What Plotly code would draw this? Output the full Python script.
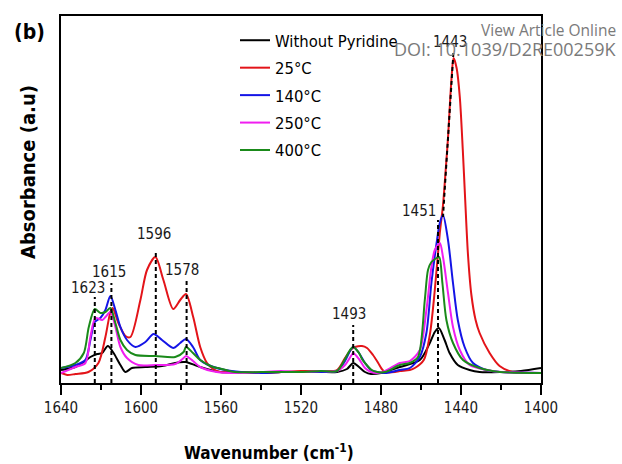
import plotly.graph_objects as go

# ---------------- data ----------------
series_names = ["Without Pyridine", "25°C", "140°C", "250°C", "400°C"]
series_colors = ["#000000", "#e31419", "#1414e6", "#f01ef0", "#1a8a1a"]

wn_black = [1640, 1632.8, 1628.6, 1625.3, 1621.9, 1619.4, 1616.6, 1613.7, 1610.3, 1607.8, 1604.5,
            1597.8, 1589.5, 1582.9, 1578.7, 1577.5, 1570.4, 1560.4, 1550, 1540, 1530, 1520, 1510,
            1502, 1497, 1493.9, 1491, 1488, 1485, 1480, 1470.6, 1460.6, 1455.6, 1453.1, 1451.1,
            1448.2, 1445.7, 1441.6, 1435.7, 1430.7, 1420, 1410, 1400]
ab_black = [0.13, 0.16, 0.21, 0.26, 0.29, 0.30, 0.37, 0.30, 0.18, 0.11, 0.15,
            0.16, 0.17, 0.20, 0.21, 0.21, 0.16, 0.11, 0.11, 0.10, 0.11, 0.11, 0.11,
            0.11, 0.14, 0.20, 0.16, 0.11, 0.09, 0.10, 0.16, 0.23, 0.40, 0.51, 0.55,
            0.43, 0.30, 0.18, 0.13, 0.11, 0.11, 0.12, 0.15]

wn_25 = [1640, 1636.9, 1632.8, 1626.3, 1621.3, 1617.8, 1615.3, 1614.2, 1611.3, 1607.8, 1605.3,
         1600.3, 1597.0, 1592.8, 1588.8, 1583.9, 1580.4, 1577.5, 1573.9, 1570.4, 1567.0, 1563.9,
         1560.4, 1550, 1540, 1530, 1520, 1510, 1502, 1498.0, 1494.7, 1493.0, 1489.5, 1487.0,
         1484.0, 1481.4, 1479.6, 1478.0, 1473.0, 1470.6, 1465.6, 1463.1, 1458.6, 1455.6, 1453.1,
         1450.6, 1449.0, 1447.4, 1446.5, 1444.8, 1443.7, 1442.2, 1440.6, 1439.1, 1437.9, 1436.5,
         1434.8, 1432.7, 1430.7, 1425.7, 1420.7, 1414.2, 1400]
ab_25 = [0.10, 0.08, 0.09, 0.11, 0.20, 0.46, 0.71, 0.75, 0.60, 0.47, 0.46,
         0.83, 1.13, 1.26, 1.03, 0.74, 0.83, 0.89, 0.66, 0.36, 0.20, 0.14,
         0.11, 0.11, 0.10, 0.11, 0.12, 0.12, 0.13, 0.25, 0.34, 0.36, 0.37, 0.35,
         0.28, 0.20, 0.14, 0.11, 0.11, 0.12, 0.13, 0.15, 0.23, 0.48, 0.93,
         1.50, 1.78, 2.20, 2.45, 3.03, 3.25, 3.15, 2.86, 2.33, 1.83, 1.28,
         0.88, 0.63, 0.50, 0.30, 0.17, 0.11, 0.10]

wn_140 = [1640, 1632.8, 1627.8, 1625.3, 1623.1, 1620.3, 1617.8, 1615.3, 1612.8, 1610.3, 1607.0,
          1602.8, 1597.8, 1593.7, 1589.5, 1583.9, 1580.4, 1577.5, 1574.0, 1570.4, 1566.4, 1557.9,
          1550, 1540, 1530, 1520, 1510, 1502, 1498, 1495.5, 1493.9, 1491, 1488, 1485, 1482, 1478,
          1470.6, 1465.6, 1460.6, 1457.3, 1454.8, 1452.2, 1450.6, 1449.0, 1446.5, 1444.0, 1441.6,
          1438.2, 1434.0, 1427.3, 1420, 1400]
ab_140 = [0.15, 0.18, 0.23, 0.43, 0.61, 0.65, 0.73, 0.87, 0.73, 0.56, 0.43,
          0.36, 0.41, 0.49, 0.43, 0.35, 0.40, 0.44, 0.36, 0.23, 0.18, 0.13,
          0.11, 0.10, 0.11, 0.11, 0.11, 0.12, 0.22, 0.32, 0.36, 0.30, 0.20, 0.13, 0.11, 0.10,
          0.13, 0.15, 0.26, 0.50, 1.00, 1.40, 1.60, 1.68, 1.43, 1.00, 0.63,
          0.36, 0.20, 0.13, 0.11, 0.10]

wn_250 = [1640, 1632.8, 1627.8, 1625.3, 1622.8, 1619.4, 1617.8, 1615.3, 1612.8, 1610.3, 1607.0,
          1601.3, 1592.8, 1582.9, 1578.7, 1577.5, 1574.0, 1570.4, 1562.1, 1550, 1540, 1530, 1520,
          1510, 1502, 1498, 1494.7, 1493.9, 1491, 1488, 1485, 1482, 1478, 1470.6, 1465.6, 1460.6,
          1457.3, 1454.8, 1453.1, 1450.6, 1449.0, 1446.5, 1444.0, 1440.6, 1435.7, 1427.3, 1420, 1400]
ab_250 = [0.10, 0.16, 0.20, 0.46, 0.65, 0.63, 0.66, 0.71, 0.56, 0.36, 0.25,
          0.18, 0.18, 0.19, 0.25, 0.27, 0.22, 0.16, 0.11, 0.10, 0.11, 0.12, 0.11,
          0.12, 0.12, 0.18, 0.28, 0.30, 0.24, 0.15, 0.11, 0.10, 0.12, 0.20, 0.22, 0.33,
          0.73, 1.16, 1.33, 1.40, 1.26, 0.90, 0.56, 0.33, 0.18, 0.13, 0.11, 0.10]

wn_400 = [1640, 1632.8, 1628.6, 1626.1, 1623.1, 1620.3, 1617.8, 1615.3, 1612.8, 1610.3, 1607.0,
          1602.8, 1592.8, 1582.9, 1578.7, 1577.5, 1574.0, 1570.4, 1564.0, 1561.4, 1553, 1540, 1530,
          1520, 1510, 1502, 1498, 1495.5, 1493.9, 1491, 1489.5, 1488, 1484.7, 1482, 1478, 1470.6,
          1465.6, 1461.5, 1458.1, 1456.5, 1454.8, 1452.2, 1450.9, 1449.3, 1447.3, 1444.0, 1439.0,
          1430.7, 1420.7, 1400]
ab_400 = [0.15, 0.20, 0.30, 0.56, 0.74, 0.70, 0.71, 0.75, 0.60, 0.43, 0.33,
          0.28, 0.27, 0.26, 0.31, 0.36, 0.30, 0.23, 0.16, 0.15, 0.11, 0.11, 0.11,
          0.11, 0.12, 0.12, 0.24, 0.33, 0.36, 0.30, 0.24, 0.20, 0.13, 0.11, 0.11, 0.18,
          0.20, 0.26, 0.83, 1.13, 1.21, 1.25, 1.26, 1.00, 0.63, 0.40, 0.23,
          0.15, 0.11, 0.10]

series_x = [wn_black, wn_25, wn_140, wn_250, wn_400]
series_y = [ab_black, ab_25, ab_140, ab_250, ab_400]

# peak markers: label text, dashed-line position, dashed-line top, label position
peak_labels = ["1623", "1615", "1596", "1578", "1493", "1451", "1443"]
peak_pos = [1623.1, 1614.8, 1592.6, 1577.2, 1493.9, 1451.5, 1443.8]
peak_line_top = [0.86, 1.00, 1.33, 1.05, 0.58, 1.63, 3.30]
peak_label_y = [0.95, 1.11, 1.49, 1.13, 0.69, 1.72, 3.41]
peak_label_x = [1626.4, 1615.8, 1593.7, 1579.4, 1495.8, 1460.8, 1445.5]
slant_1443_bottom = (1449.0, 1.66)

x_ticks = [1640, 1600, 1560, 1520, 1480, 1440, 1400]

FONT = "DejaVu Sans Condensed, DejaVu Sans, sans-serif"

fig = go.Figure()
for i, (name, col, xs, ys) in enumerate(zip(series_names, series_colors, series_x, series_y)):
    fig.add_trace(go.Scatter(x=xs, y=ys, mode="lines", name=name, legendgroup=f"g{i}",
                             line=dict(color=col, width=2, shape="spline", smoothing=0.8)))

# dashed peak lines
for lab, px, top in zip(peak_labels, peak_pos, peak_line_top):
    if lab == "1443":
        fig.add_shape(type="line", xref="x", yref="y", x0=px, y0=top,
                      x1=slant_1443_bottom[0], y1=slant_1443_bottom[1],
                      line=dict(color="black", width=2, dash="4px,3px"))
    else:
        fig.add_shape(type="line", xref="x", yref="y", x0=px, y0=0, x1=px, y1=top,
                      line=dict(color="black", width=2, dash="4px,3px"))
for lab, lx, ly in zip(peak_labels, peak_label_x, peak_label_y):
    fig.add_annotation(x=lx, y=ly, xref="x", yref="y", text=lab, showarrow=False,
                       xanchor="center", yanchor="middle",
                       font=dict(family=FONT, size=15, color="#1a1a1a"))

# titles / labels
fig.add_annotation(x=(269 - 61) / 480, y=(383 - 452) / 367, xref="paper", yref="paper",
                   xanchor="center", yanchor="middle",
                   text="<b>Wavenumber (cm<sup>-1</sup>)</b>", showarrow=False,
                   font=dict(family=FONT, size=17, color="black"))
fig.add_annotation(x=(28 - 61) / 480, y=(383 - 172) / 367, xref="paper", yref="paper",
                   xanchor="center", yanchor="middle",
                   text="<b>Absorbance (a.u)</b>", showarrow=False, textangle=-90,
                   font=dict(family=FONT, size=20, color="black"))
fig.add_annotation(x=(29 - 61) / 480, y=(383 - 32) / 367, xref="paper", yref="paper",
                   xanchor="center", yanchor="middle",
                   text="<b>(b)</b>", showarrow=False,
                   font=dict(family=FONT, size=21, color="black"))
fig.add_annotation(x=(618 - 61) / 480, y=(383 - 30) / 367, xref="paper", yref="paper",
                   xanchor="right", yanchor="middle", text="View Article Online", showarrow=False,
                   font=dict(family="Open Sans", size=15.5, color="#7a7a7a"))
fig.add_annotation(x=(618 - 61) / 480, y=(383 - 49) / 367, xref="paper", yref="paper",
                   xanchor="right", yanchor="middle", text="DOI: 10.1039/D2RE00259K", showarrow=False,
                   font=dict(family="Open Sans", size=18, color="#7a7a7a"))

fig.update_layout(
    width=622, height=464,
    margin=dict(l=61, r=81, t=16, b=81),
    paper_bgcolor="white", plot_bgcolor="white",
    showlegend=True,
    legend=dict(x=(235 - 61) / 480, y=(383 - 23) / 367, xanchor="left", yanchor="top",
                bgcolor="rgba(0,0,0,0)", font=dict(family=FONT, size=16.5, color="black"),
                tracegroupgap=3),
    xaxis=dict(range=[1640, 1400], tickvals=x_ticks, ticks="outside", ticklen=10,
               tickwidth=2, tickcolor="black", showline=True, linecolor="black",
               linewidth=2, mirror=True, showgrid=False, zeroline=False,
               ticklabelstandoff=0,
               tickfont=dict(family=FONT, size=15, color="#1a1a1a"),
               minor=dict(dtick=20, tick0=1400, ticks="outside", ticklen=5,
                          tickwidth=2, tickcolor="black", showgrid=False)),
    yaxis=dict(range=[0, 3.67], showticklabels=False, ticks="", showline=True,
               linecolor="black", linewidth=2, mirror=True, showgrid=False,
               zeroline=False),
)

fig.write_html("out.html", config={"displayModeBar": False},
               post_script="document.body.style.margin='0';")
